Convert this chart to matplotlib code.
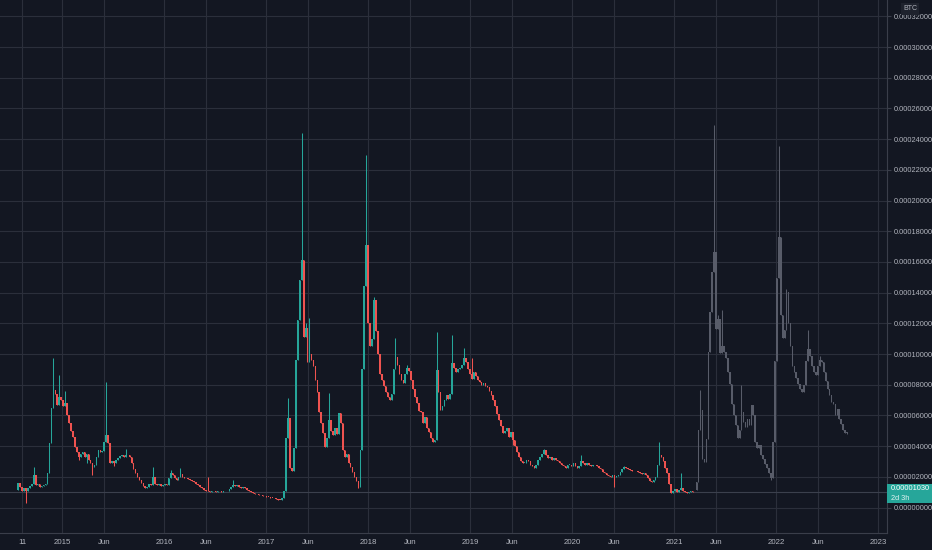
import matplotlib
matplotlib.use('Agg')
import matplotlib.pyplot as plt
import matplotlib.dates as mdates
from matplotlib import font_manager as fm
from matplotlib.patches import Rectangle
import numpy as np

# weekly candles, prices in satoshi (1e-8 BTC)
first_week = '2014-07-28'
first_open = 1150
closes = [
    1600, 1350, 1100, 1250, 1050, 1300, 1400, 1500, 2100, 1450,
    1500, 1350, 1400, 1450, 1500, 2250, 4200, 6500, 7650, 7400,
    6700, 7200, 7000, 6600, 6800, 6000, 5500, 5000, 4600, 3950,
    3600, 3300, 3500, 3600, 3300, 3500, 3100, 2900, 2650, 2750,
    3300, 3750, 3600, 3700, 4300, 4700, 4200, 2900, 3000, 2900,
    3100, 3250, 3350, 3420, 3300, 3450, 3400, 3300, 2900, 2500,
    2250, 2000, 1800, 1600, 1400, 1270, 1350, 1500, 1450, 2000,
    1550, 1450, 1500, 1400, 1450, 1500, 1450, 1900, 2250, 2100,
    1900, 1800, 2000, 2200, 2000, 1950, 1900, 1850, 1800, 1700,
    1650, 1550, 1450, 1350, 1250, 1150, 1100, 1050, 1000, 1100,
    1050, 1000, 1100, 1050, 1000, 1100, 1050, 1100, 1200, 1350,
    1460, 1400, 1450, 1350, 1300, 1350, 1250, 1150, 1100, 1000,
    950, 900, 850, 820, 800, 760, 720, 700, 680, 650,
    620, 600, 560, 520, 490, 600, 1100, 4500, 5800, 2600,
    2400, 3900, 9600, 12200, 14800, 16100, 11100, 11700, 9500, 10000,
    9600, 9200, 8300, 7500, 6200, 5500, 4850, 3950, 4500, 5700,
    5000, 4700, 5200, 4800, 6160, 5500, 3740, 3300, 3500, 2900,
    2640, 2300, 2000, 1700, 1340, 3740, 9000, 14400, 17100, 12000,
    10500, 11000, 13500, 11500, 10000, 8700, 8300, 7900, 7500, 7200,
    7000, 7400, 9000, 9800, 9300, 8700, 8300, 8100, 8700, 9090,
    8900, 8300, 7700, 7200, 6800, 6300, 6200, 5500, 5900, 5200,
    4900, 4500, 4300, 4400, 8960, 7500, 6350, 6600, 7000, 7300,
    7100, 7400, 9400, 9100, 8800, 9000, 9100, 9300, 9750, 9500,
    9000, 8700, 8400, 8800, 8600, 8300, 8200, 8000, 8100, 7900,
    7850, 7600, 7300, 7000, 6600, 6100, 5700, 5300, 4850, 5000,
    5200, 4600, 4900, 4400, 4000, 3600, 3300, 3000, 2900, 2900,
    3100, 3000, 2800, 2700, 2600, 2800, 3100, 3300, 3500, 3750,
    3400, 3200, 3300, 3100, 3200, 3100, 3000, 2900, 2800, 2700,
    2600, 2800, 2800, 2700, 2900, 2700, 2600, 2700, 3000, 2900,
    2800, 2900, 2800, 2700, 2800, 2750, 2700, 2600, 2500, 2300,
    2250, 2100, 2050, 2000, 2100, 2000, 2050, 2100, 2300, 2500,
    2640, 2550, 2500, 2450, 2400, 2350, 2400, 2300, 2250, 2200,
    2250, 2100, 1900, 1700, 1660, 1800, 2000, 2800, 3420, 3300,
    3000, 2600, 2250, 1500, 950, 1100, 1200, 1000, 1150, 1300,
    1050, 1000, 950, 1000, 1050, 1000, 1030,
]
# wicks that stick out (week index: price)
wick_highs = {8: 2640, 18: 9740, 21: 8630, 24: 7600, 45: 8200, 55: 3800,
              69: 2640, 78: 2450, 83: 2570, 97: 2000, 110: 1800, 138: 7130,
              145: 24400, 147: 12000, 149: 12350, 159: 7460, 178: 22970,
              182: 13700, 193: 11040, 199: 9300, 214: 11440, 222: 11240,
              228: 10400, 232: 9750, 269: 3800, 288: 3420, 310: 2700,
              328: 4270, 339: 2250}
wick_lows = {4: 300, 31: 3100, 35: 2900, 38: 2100, 49: 2700, 174: 1250,
             213: 4270, 253: 4070, 305: 1340}

# bars pattern drawn on the right: weeks 136-213 copied 211 weeks later
pattern_start, pattern_end = 136, 214
pattern_shift = 211
pattern_offset = 550

last_price = 1030
tick_dates = ['2014-08-11', '2015-01-01', '2015-06-01', '2016-01-01', '2016-06-01',
              '2017-01-01', '2017-06-01', '2018-01-01', '2018-06-01', '2019-01-01',
              '2019-06-01', '2020-01-01', '2020-06-01', '2021-01-01', '2021-06-01',
              '2022-01-01', '2022-06-01', '2023-01-01']
tick_labels = ['11', '2015', 'Jun', '2016', 'Jun', '2017', 'Jun', '2018', 'Jun',
               '2019', 'Jun', '2020', 'Jun', '2021', 'Jun', '2022', 'Jun', '2023']

BG = '#131722'
GRID = '#2b2f3b'
TXT = '#b2b5be'
UP = '#26a69a'
DOWN = '#ef5350'
GHOST = '#585c69'
SAT = 1e-8

# narrow font if there is one, otherwise a smaller Liberation Sans
installed = {f.name for f in fm.fontManager.ttflist}
if 'Liberation Sans Narrow' in installed:
    FONT, YSIZE, XSIZE = 'Liberation Sans Narrow', 6.6, 6.4
else:
    FONT, YSIZE, XSIZE = 'Liberation Sans', 5.3, 5.7

W, H = 932, 550


def px(x, y):
    return x / W, 1 - y / H


def draw_candles(ax, x, o, h, l, c, colors):
    ax.vlines(x, l * SAT, h * SAT, colors=colors, lw=0.75, zorder=3)
    body = np.maximum(np.abs(c - o), 40)
    ax.bar(x, body * SAT, width=5.4, bottom=np.minimum(o, c) * SAT,
           color=colors, linewidth=0, zorder=4)


c = np.array(closes, dtype=float)
o = np.concatenate([[first_open], c[:-1]])
hi = np.maximum(o, c)
lo = np.minimum(o, c)
for k, v in wick_highs.items():
    hi[k] = v
for k, v in wick_lows.items():
    lo[k] = v
weeks = np.datetime64(first_week) + np.arange(len(c)) * np.timedelta64(7, 'D')
x = mdates.date2num(weeks.astype('datetime64[D]').astype(object))
cols = np.where(c >= o, UP, DOWN)

fig = plt.figure(figsize=(W / 100, H / 100), dpi=100, facecolor=BG)
ax = fig.add_axes([0, 17 / H, 887 / W, 533 / H], facecolor=BG)

draw_candles(ax, x, o, hi, lo, c, cols)

sl = slice(pattern_start, pattern_end)
gx = x[sl] + pattern_shift * 7
draw_candles(ax, gx, o[sl] + pattern_offset, hi[sl] + pattern_offset,
             lo[sl] + pattern_offset, c[sl] + pattern_offset, GHOST)

# last price line
ax.axhline(last_price * SAT, color='#3b404d', lw=0.8, zorder=2)

ax.set_xlim(mdates.date2num(np.datetime64('2014-05-24').astype(object)),
            mdates.date2num(np.datetime64('2023-02-02').astype(object)))
ax.set_ylim(-1661 * SAT, 33064 * SAT)

yt = np.arange(0, 34000, 2000) * SAT
ax.set_yticks(yt)
ax.set_yticklabels([f'{v:.8f}' for v in yt])
ax.yaxis.tick_right()
xt = [mdates.date2num(np.datetime64(d).astype(object)) for d in tick_dates]
ax.set_xticks(xt)
ax.set_xticklabels(tick_labels)
ax.grid(True, color=GRID, lw=0.8, zorder=0)
ax.tick_params(axis='y', colors='#3a3e4a', labelcolor=TXT, length=3, width=0.8,
               pad=1.5, labelsize=YSIZE)
ax.tick_params(axis='x', length=0, labelcolor=TXT, pad=4, labelsize=XSIZE)
for lab in ax.get_xticklabels() + ax.get_yticklabels():
    lab.set_family(FONT)
for side in ['top', 'left']:
    ax.spines[side].set_visible(False)
for side in ['right', 'bottom']:
    ax.spines[side].set_color('#3a3e4a')
    ax.spines[side].set_linewidth(0.8)

# currency tag on the price scale
fig.text(*px(910, 9), 'BTC', color=TXT, fontsize=5.0, family=FONT, ha='center',
         va='center', bbox=dict(boxstyle='square,pad=0.3', fc='#1e222d', ec='none'))

# current price tag
fig.add_artist(Rectangle(px(887, 503), 45 / W, 19 / H, transform=fig.transFigure,
                         fc=UP, ec='none', zorder=10))
fig.text(*px(891, 488.5), f'{last_price * SAT:.8f}', color='white', fontsize=YSIZE,
         family=FONT, va='center', zorder=11)
fig.text(*px(891, 498), '2d 3h', color='#e0f2f1', fontsize=YSIZE, family=FONT,
         va='center', zorder=11)

fig.savefig('out.png', dpi=100, facecolor=BG)
